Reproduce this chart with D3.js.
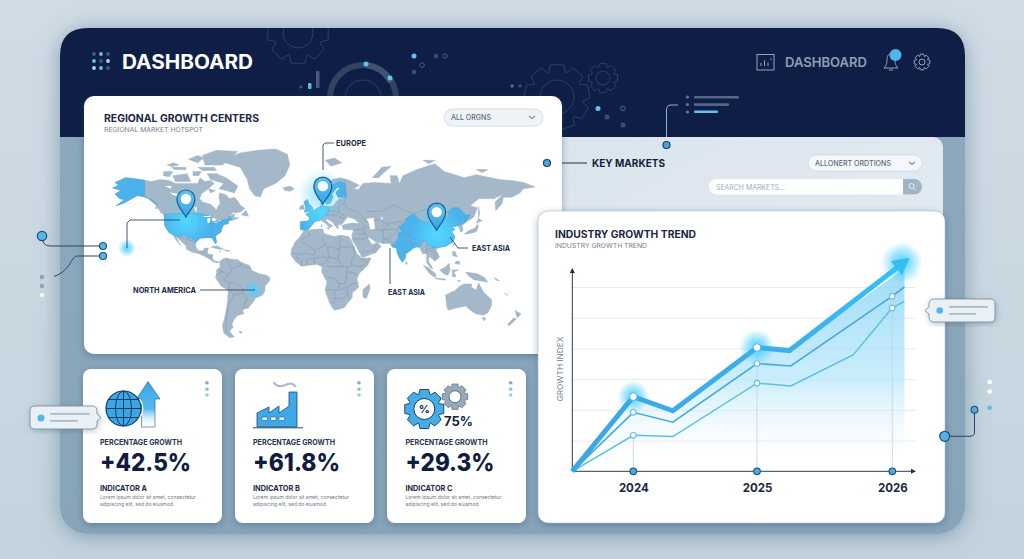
<!DOCTYPE html>
<html><head><meta charset="utf-8">
<script src="https://cdn.jsdelivr.net/npm/d3@7"></script>
<style>html,body{margin:0;padding:0;background:#ccd9e2;overflow:hidden}svg{display:block}text{font-family:Inter,"Open Sans",sans-serif}</style>
</head><body><svg id="c" width="1024" height="559" viewBox="0 0 1024 559"></svg>
<script>
/* ---------- chart data ---------- */
const trendYears=[2024,2025,2026];
const trendMain=[[2023.5,0],[2024,24.3],[2024.32,19.7],[2025,40.3],[2025.24,39.3],[2026.035,66.3]];
const trendArrowTip=[2026.13,69.5];
const trendMid=[[2023.5,0],[2024,19.2],[2024.32,16],[2025,35.1],[2025.25,34.3],[2026,57],[2026.09,60]];
const trendLow=[[2023.5,0],[2024,11.7],[2024.32,11.3],[2025,28.7],[2025.25,27.8],[2025.71,37.9],[2026,53.2],[2026.09,55.3]];
const trendGrid=[10,20,30,40,50,60];
const kpiTitles=["PERCENTAGE GROWTH","PERCENTAGE GROWTH","PERCENTAGE GROWTH"];
const kpiValues=["+42.5%","+61.8%","+29.3%"];
const kpiNames=["INDICATOR A","INDICATOR B","INDICATOR C"];
/* ---------- map data: lon/lat rings ---------- */
const landRings=[
[[-168,65.5],[-163,67],[-166,68.5],[-157,71],[-150,70.5],[-141,69.7],[-135,69],[-128,70],[-120,69.5],[-115,68],[-108,68],[-100,68],[-96,68],[-94,71],[-90,69],[-85,69.5],[-82,68],[-87,65],[-93,62],[-94.5,59],[-92,57],[-85,55.5],[-82,53],[-80,51.5],[-79,54],[-77,56],[-78,60],[-77.5,62.5],[-72,61.5],[-69,59],[-65,60],[-62,57.5],[-60,55],[-56,52.5],[-60,50],[-66,50],[-70,47],[-65,49],[-65,46],[-61,46],[-66,44],[-70,43.5],[-70,41.5],[-74,40.5],[-76,37],[-76,35],[-81,31.5],[-80,26],[-81,25],[-82.8,28],[-84,30],[-89,30],[-94,29.5],[-97.5,27],[-97.8,22],[-95,18.5],[-91,18.5],[-90.5,21],[-87,21],[-88,16],[-83.5,15],[-83.5,11],[-81,9],[-77.5,8.5],[-80,7.5],[-83,8.5],[-86,11],[-91,14],[-95,16],[-101,17.5],[-105.5,20],[-106,23],[-112,29],[-114.5,31.5],[-112,26],[-110,23],[-112,25],[-115,29],[-117,32.5],[-120.5,34.5],[-124,40],[-124.5,48],[-128,51],[-133,56],[-139,60],[-147,61],[-152,59],[-158,56.5],[-165,54.5],[-158,58.5],[-162,59],[-166,62],[-161,64]],
[[-73,78],[-68,80.5],[-60,82],[-45,83],[-30,83.5],[-20,81.5],[-18,77],[-22,72],[-30,68],[-40,65],[-43,60],[-48,61],[-52,65],[-54,70],[-60,76]],
[[-80,73],[-72,71],[-62,66.5],[-65,62.5],[-72,64],[-78,65],[-74,68],[-85,70],[-88,73]],
[[-117,72],[-105,73],[-102,69],[-115,69]],[[-125,74],[-117,74],[-120,71.5],[-125,72]],
[[-90,77],[-75,77],[-62,82.5],[-80,83],[-92,81]],[[-96,76],[-82,76],[-80,74.5],[-92,74.5]],
[[-118,76],[-106,76],[-106,74.8],[-116,75]],[[-87,65],[-81,64],[-85,62.5]],[[-59,48],[-53,47],[-55,51.5]],
[[-100,74],[-93,74],[-95,72],[-100,72]],[[-128,50.5],[-124,49],[-124,48.5],[-128,50]],
[[-104,79.5],[-96,81],[-91,80],[-96,78]],[[-122,77],[-116,78],[-112,77],[-118,76.3]],[[-131,54],[-130,52.5],[-132,52.5]],[[-64,50],[-62,49.7],[-64,49.3]],
[[-24,65.5],[-18,66.5],[-14,65],[-18,63.5],[-22,64]],
[[-85,22],[-80,23],[-74,20],[-78,20]],[[-74,19.5],[-68.5,18.5],[-71,18]],[[-78,18.4],[-76.4,18.2],[-77,17.8]],
[[-77.5,8.5],[-75,11],[-72,12],[-68,11],[-62,10.5],[-60,8.5],[-52,5],[-50,0.5],[-44,-2.5],[-38,-4],[-35,-6],[-35,-9],[-39,-14],[-39,-18],[-41,-22],[-47,-24.5],[-49,-28],[-53,-33],[-58,-34.5],[-57,-38],[-62,-39],[-65,-42],[-67,-46],[-66,-48],[-69,-51],[-65,-55],[-69,-55.5],[-74,-52],[-75,-47],[-73,-40],[-71,-30],[-70,-18],[-76,-14],[-81,-6],[-80,-2],[-80,1],[-77,4]],
[[-61,-51],[-58,-51.5],[-60,-52.5]],
[[-6,35.8],[3,37],[10,37.3],[11,33.5],[15,32.3],[20,31],[25,32],[32,31],[34,28],[37,21],[39,16],[43,12],[51,12],[48,5],[41,-2],[39,-7],[40.5,-15],[35,-20],[35,-24],[32.5,-27],[28,-33],[20,-35],[18,-33],[15,-27],[12,-18],[13.5,-10],[9,-1],[9.5,4],[5,6],[-4,5],[-8,4.5],[-13,8.5],[-17,14.5],[-16.5,20],[-13,27],[-10,30]],
[[49.5,-12],[50,-16],[47,-25],[44,-24],[44,-17]],
[[-9,37],[-9,43],[-2,43.5],[-1,46],[-4.5,48.5],[2,51],[8,54],[8.5,57],[10.5,57],[10,54.5],[14,54],[19,54.5],[21,57],[24,59],[30,60],[23,60],[21,63],[25,65.5],[22,65.8],[17.5,62],[18.5,60],[16,56],[13,55.5],[11,59],[6,58],[5,62],[12,66],[18,70],[25,71],[31,70],[41,67],[36,65],[40,64.5],[44,68],[54,68.5],[68,68],[67,72],[73,72],[75,68],[78,72],[90,75],[105,77.5],[113,74],[130,71],[140,72.5],[160,70],[170,69.5],[180,68.5],[190,66],[180,65],[177,62.5],[170,60],[163,60],[162,56],[156.5,51],[156,57],[163,62],[155,59],[142,59],[135,54.5],[141,53],[138,46.5],[132,43],[128,40],[129,36],[126.5,34.5],[126,37.5],[124.5,40],[121,39],[118,39],[122,37],[119,35],[122,31],[120,26],[114,22.5],[108,21.5],[106,19],[109,13],[105,9],[103,11],[100,13.5],[99.5,9],[103.5,2],[101,3],[98,8],[98,16],[94.5,16],[92,21.5],[89,22],[87,21],[80,15.5],[80,12],[77.5,8],[75,12],[73,17],[72.5,21],[69,22],[67,25],[61,25],[57,26],[54,27],[50,30],[48,30],[51,25],[52,24],[56,26],[59.5,22.5],[55,17],[45,13],[43,13],[39,21],[35,28],[34.5,31.5],[36,36.5],[30,36.5],[27,37],[26.5,40],[29,41],[35,42],[41,41.5],[37,45],[31,46.5],[28,43],[26,40.5],[23,40.5],[23,37],[20,40],[19,42],[14,45],[12.5,44],[16,41],[18.5,40],[16,38],[12,42],[8,44],[3,43],[0,39.5],[-2,37],[-5.5,36]],
[[12,79],[20,80],[26,78],[17,76.5]],[[52,71],[57,71],[68,76.5],[60,76]],[[95,79],[105,79],[100,77.5]],[[140,75],[150,75],[145,73.5]],
[[142,54],[143,49],[142,46],[142,50]],[[130,33],[135,33.5],[140,35],[142,39],[141,41],[139,38],[133,35.5]],[[140,42],[145,43.5],[142,45.5]],
[[120.5,23],[122,25],[121,25]],[[120,18],[122,18],[124,13],[120,14]],[[122,7],[126,6],[126,9],[123,9]],
[[109,1],[113,-3],[116,-4],[118,1],[117,7],[113,3]],[[95,5.5],[100,2.5],[106,-3],[105.5,-6],[101,-3]],[[105,-6.5],[114,-7.5],[114,-8.5],[106,-7.5]],
[[119.5,1],[125,1],[121,-1],[123,-5],[120,-5.5]],[[131,-1],[141,-2.5],[147,-6],[150,-10.5],[143,-9],[138,-8],[133,-4]],
[[114,-22],[122,-18],[126,-14],[130,-12],[136,-12],[136,-15],[140,-17.5],[142,-11],[146,-19],[153,-26],[153,-31],[150,-37],[146,-39],[140,-38],[135,-35],[131,-31.5],[124,-33],[116,-35],[115,-31]],
[[145,-41],[148,-41],[147,-43.5]],[[173,-35],[178,-38],[175,-41],[174,-39]],[[172,-41],[174,-42],[168,-47],[166.5,-46]],[[80,9.5],[82,7],[80.5,6]],
[[124,-9],[127,-8.5],[125,-10]],[[164,-20],[167,-22],[166,-22]],[[155,-6],[160,-9],[157,-8.5]],
[[9,41],[9.5,39],[8.5,39]],[[13,38],[15.5,38],[15,37]],
[[-5.5,50],[1,51],[1.5,53],[-2,56],[-3,58.5],[-6,57],[-4.5,54],[-5,52]],[[-10,52],[-6,52],[-6,55],[-9,54.5]]
];
const highlightRings=[
[[-168,65.5],[-163,67],[-166,68.5],[-157,71],[-150,70.5],[-141,69.7],[-141,60],[-135,58.5],[-130,55],[-134,57],[-139,60],[-147,61],[-152,59],[-158,56.5],[-165,54.5],[-158,58.5],[-162,59],[-166,62],[-161,64]],
[[-124.5,48.5],[-95,49],[-89,48],[-84.5,46.5],[-82.5,43],[-79,43],[-76,44],[-71,45],[-69,47],[-67,45],[-70,43.5],[-70,41.5],[-74,40.5],[-76,37],[-76,35],[-81,31.5],[-80,26],[-81,25],[-82.8,28],[-84,30],[-89,30],[-94,29.5],[-97.5,26],[-101,29.5],[-104,29.5],[-106.5,32],[-111,31.3],[-114.8,32.5],[-117,32.5],[-120.5,34.5],[-124,40]],
[[-9,37],[-9,43],[-2,43.5],[3,42.5],[0,39.5],[-2,37],[-5.5,36]],
[[-2,43.5],[-1,46],[-4.5,48.5],[2,51],[8,54],[14,54],[15,51],[13,48],[10,47],[7.5,44],[3,43]],
[[-5.5,50],[1,51],[1.5,53],[-2,56],[-3,58.5],[-6,57],[-4.5,54],[-5,52]],
[[11,59],[13,55.5],[16,56],[18.5,60],[17.5,62],[22,65.8],[25,65.5],[21,63],[23,60],[30,60],[29,68],[24,69],[15,66],[12,62]],
[[74,39],[80,42],[80,45],[87,49],[91,45],[96,43],[105,42],[111,44],[117,47],[116,50],[120,53],[125,53],[131,48],[135,48],[131,43],[125,40],[121,39],[118,39],[122,37],[119,35],[122,31],[120,26],[114,22.5],[108,21.5],[102,22],[98,24],[98,28],[92,28],[86,28],[81,30],[79,33]],
[[68,23.5],[71,25],[74,30],[74,34],[78,35],[79,31],[81,29],[88,26.5],[92,27.5],[96,28],[93,23],[92,22],[89,22],[87,21],[80,15.5],[80,12],[77.5,8],[75,12],[73,17],[72.5,21],[69,22]]
];
const lakeRings=[
[[-92,47],[-85,47.5],[-85,46.5],[-90,46.5]],[[-88,45.5],[-85,45.5],[-86,42],[-87.5,42]],[[-84,46],[-80,45],[-82,43],[-84,44]],[[-83,42],[-79,43],[-80,42]],[[-80,43.5],[-76,44],[-77,43.3]],
[[47,45],[53,46],[54,40],[54,37],[50,37],[49,42]],[[-120,63],[-112,62],[-110,60.5],[-116,61]],[[-124,66.5],[-118,66.5],[-119,65]],[[59,46.5],[61,46],[60,44]],[[-99,53.5],[-97,53.5],[-97,50.5],[-98,50.5]]
];
const borderLines=[
[[-1.5,35],[-1.5,32],[-8.7,28]],[[-8.7,27],[-4.8,25],[3,19],[12,23.5],[9.5,30]],[[12,23.5],[14,22.5],[24,20],[25,32]],[[25,22],[36.5,22]],[[24,20],[23,11],[15,13],[14,22.5]],[[3,12],[14,13]],[[-16.5,16],[-5,16],[3,15],[3,19]],[[-12,15],[-12,12],[-8,10],[-8,4.5]],[[3,6],[3,12]],[[9,4.5],[14,10],[15,13]],[[14,4],[27,4],[31,4],[35,5],[42,4]],[[36.5,14],[34,9],[35,5]],[[42,4],[48,8],[43,11]],[[12,-5],[22,-8],[22,-11],[28,-12],[30,-8],[30,-1],[31,4]],[[34,-1],[40,-4]],[[30,-1],[34,-1]],[[12,-17],[24,-17.5],[24,-11]],[[20,-17.5],[20,-29],[16,-28]],[[20,-25],[26,-25],[31,-22],[33,-26]],[[25,-17.5],[30,-15],[35,-12],[40,-11]],[[31,-22],[31,-16]],[[-4,5],[-3,11],[3,12]],[[36.5,22],[36.5,14]],[[23,11],[27,4]],
[[28,70],[30,62],[28,56],[32,52],[40,50],[48,42]],[[47,50],[61,51],[70,55],[80,51],[87,49]],[[87,49],[98,52],[107,50],[117,50]],[[52,42],[56,45],[66,41],[74,43],[80,42]],[[44,39],[48,38.5],[54,37],[61,36],[61,30],[61,25]],[[35,29],[44,29],[48,29]],[[44,39],[46,33],[48,30]],[[36,36.5],[44,37]],[[61,30],[66,29],[71,34],[74,37]],[[61,36],[66,37],[74,37]],[[98,24],[98,16]],[[98,20],[100,20],[105,22]],[[100,20],[105,15],[105,11]],[[102,22],[107,15]],[[43,17],[52,19],[55,17]],[[52,19],[55,23]],[[14,54],[15,51],[24,50],[23,54]],[[24,50],[30,46]],[[13,48],[22,48],[28,45]],[[3,50],[8,49]],[[23,59],[28,56],[23,54]],[[66,41],[61,36]],[[39,33],[46,33]],[[70,25],[62,29]],
[[-72,12],[-67,2],[-70,-4],[-74,-8],[-70,-11],[-65,-10],[-58,-16],[-58,-20],[-54,-25],[-57,-30],[-53,-33]],[[-60,8.5],[-60,5],[-67,2]],[[-78,1],[-70,-4]],[[-80,-4],[-75,-1]],[[-70,-18],[-65,-22],[-58,-20]],[[-70,-18],[-69,-11]],[[-65,-22],[-70,-30],[-72,-45],[-72,-52]],[[-54,-25],[-58,-34]],[[-60,5],[-52,2.5]],[[-92,14.5],[-91,18]],[[-88,16],[-90,14]],[[-84,15],[-86,11]],
[[-124.5,48.5],[-95,49]],[[-117,32.5],[-97.5,26]]
];
const highlightBorders=[[[-95,49],[-95,30]],[[-110,49],[-110,31.5]],[[-82,43],[-85,30]],[[3,50],[8,49]],[[88,27],[91,36],[100,36],[111,44]],[[15,51],[8,49]]];
const pins=[{lon:-106,lat:46.5},{lon:10,lat:55.5},{lon:106.5,lat:36.3}];
/* glows inside highlighted countries */
const innerGlows=[{lon:-106,lat:44,r:25},{lon:9,lat:50,r:24},{lon:107,lat:33,r:27}];
/* soft halos on the open map */
const halos=[{lon:-106,lat:54,r:24,o:.28},{lon:10,lat:62,r:25,o:.6},{lon:106.5,lat:42,r:24,o:.5},{lon:-156,lat:21,r:9,o:.95},{lon:-49,lat:-17.4,r:10,o:.95}];
const mapLabels=[{t:"EUROPE",x:336,y:146,w:30},{t:"NORTH AMERICA",x:133,y:293,w:63},{t:"EAST ASIA",x:472,y:251,w:38},{t:"EAST ASIA",x:388,y:295,w:37}];
const leaders=[[[323,170],[323,145],[325,143],[334,143]],[[200,290],[255,290]],[[450,237],[458,248],[468,248]],[[390,248],[390,284]],[[180,220],[130,220],[127,223],[127,248]]];

/* ---------- helpers ---------- */
const svg=d3.select("#c");
const defs=svg.append("defs");
function grad(id,dir,stops){const g=defs.append("linearGradient").attr("id",id);
 const [a,b,c,d]=dir;g.attr("x1",a).attr("y1",b).attr("x2",c).attr("y2",d);
 stops.forEach(s=>g.append("stop").attr("offset",s[0]).attr("stop-color",s[1]).attr("stop-opacity",s[2]??1));}
function radial(id,c){const g=defs.append("radialGradient").attr("id",id);
 g.append("stop").attr("offset",0).attr("stop-color",c).attr("stop-opacity",1);
 g.append("stop").attr("offset",.45).attr("stop-color",c).attr("stop-opacity",.6);
 g.append("stop").attr("offset",1).attr("stop-color",c).attr("stop-opacity",0);}
function shadow(id,dx,dy,sd,col,op){const f=defs.append("filter").attr("id",id).attr("x","-20%").attr("y","-20%").attr("width","140%").attr("height","140%");
 f.append("feDropShadow").attr("dx",dx).attr("dy",dy).attr("stdDeviation",sd).attr("flood-color",col).attr("flood-opacity",op);}
grad("bg",[0,0,0,1],[[0,"#d0dce5"],[1,"#c3d3dd"]]);
grad("panel",[0,0,0,1],[[0,"#8ea9bd"],[1,"#88a4b9"]]);
grad("keyPanel",[0,0,1,1],[[0,"#dae4ed"],[1,"#e6edf3"]]);
grad("area",[0,0,0,1],[[0,"#86d4f7",.8],[.55,"#b5e6fa",.7],[1,"#ffffff",0]]);
grad("main",[0,0,1,0],[[0,"#3aa7e6"],[.7,"#3fb0ec"],[1,"#30c2f7"]]);
grad("arrowUp",[0,0,0,1],[[0,"#3aa7e6"],[.6,"#55b8ee"],[1,"#ffffff",.1]]);
grad("pin",[0,0,0,1],[[0,"#5fc0f0"],[1,"#3aa6e4"]]);
radial("glow","#4fd0ff");
radial("glowIn","#52d8ff");
shadow("sCard",0,2,3.5,"#28496a",.4);
shadow("sPanel",0,2,11,"#57778f",.6);
shadow("sBub",1,2,3,"#47657f",.35);
function T(p,x,y,s,size,weight,col,w,anchor){const t=p.append("text").attr("x",x).attr("y",y).text(s).attr("font-size",size).attr("font-weight",weight).attr("fill",col);
 if(w)t.attr("textLength",w).attr("lengthAdjust","spacingAndGlyphs"); if(anchor)t.attr("text-anchor",anchor);return t;}
function gear(cx,cy,R,r,n){const a=[];const st=2*Math.PI/n;
 for(let i=0;i<n;i++){const t=i*st-Math.PI/2;
  [[-.5,r],[-.3,R],[.3,R],[.5,r]].forEach(([k,rad])=>a.push([cx+rad*Math.cos(t+k*st*.95),cy+rad*Math.sin(t+k*st*.95)]));}
 return "M"+a.map(p=>p.map(v=>v.toFixed(1)).join(",")).join("L")+"Z";}
function dotC(p,x,y,r,f,s,sw){return p.append("circle").attr("cx",x).attr("cy",y).attr("r",r).attr("fill",f).attr("stroke",s||"none").attr("stroke-width",sw||0);}
function rr(p,x,y,w,h,r,f){return p.append("rect").attr("x",x).attr("y",y).attr("width",w).attr("height",h).attr("rx",r).attr("fill",f);}
const lineGen=d3.line().curve(d3.curveLinear);

/* ---------- background & frame ---------- */
svg.append("rect").attr("width",1024).attr("height",559).attr("fill","url(#bg)");
const PX=60,PY=28,PW=905,PH=506,PR=28;
rr(svg,PX,PY,PW,PH,PR,"url(#panel)").attr("filter","url(#sPanel)");
svg.append("path").attr("d",`M${PX},137V${PY+PR}Q${PX},${PY} ${PX+PR},${PY}H${PX+PW-PR}Q${PX+PW},${PY} ${PX+PW},${PY+PR}V137Z`).attr("fill","#0f1e46");
/* header decor */
const deco=svg.append("g").attr("fill","none").attr("stroke","#2f3f63").attr("stroke-width",1);
const clipTop=defs.append("clipPath").attr("id","hdr");clipTop.append("rect").attr("x",60).attr("y",28).attr("width",905).attr("height",109);
deco.attr("clip-path","url(#hdr)");
deco.append("path").attr("d",gear(298,33,31,24,8));deco.append("circle").attr("cx",298).attr("cy",33).attr("r",15);
deco.append("path").attr("d",gear(557,97,33,26,9));deco.append("circle").attr("cx",557).attr("cy",97).attr("r",17);
deco.append("path").attr("d",gear(603,78,15,11.5,8));deco.append("circle").attr("cx",603).attr("cy",78).attr("r",7);
deco.append("circle").attr("cx",363).attr("cy",98).attr("r",33).attr("stroke-width",6).attr("stroke","#33425f");
deco.append("circle").attr("cx",363).attr("cy",98).attr("r",18);
deco.append("path").attr("d","M366,65A33,33 0 0 1 391,82").attr("stroke","#405272").attr("stroke-width",6);
dotC(svg,366,64,2.5,"#63c3ee");dotC(svg,390,78,2.5,"#63c3ee");
rr(svg,316,71,3.5,17,1,"#4a5b78");rr(svg,308,83,3.5,6,1,"#5db7e2");dotC(svg,301,87,1.5,"#4a5b78");
dotC(svg,414,56,2.5,"#63c3ee");dotC(svg,422,65,2.3,"none","#4a5b78",1);dotC(svg,414,72,2.3,"#3d4d6d");dotC(svg,436,56,2.2,"#3d4d6d");dotC(svg,445,56,2.2,"none","#4a5b78",1);
dotC(svg,512,86,1.8,"#55668a");dotC(svg,520,86,1.8,"#3d4d6d");
dotC(svg,598,108.5,2.5,"#63c3ee");dotC(svg,607,117,2.5,"#3d4d6d");dotC(svg,623,108.5,2.3,"none","#55668a",1);dotC(svg,623,125,2.5,"#3d4d6d");
[97,104.5,112].forEach(y=>dotC(svg,687.5,y,1.6,"#67768f"));
rr(svg,694,96,45,2.6,1,"#566683");rr(svg,694,103.3,35,2.6,1,"#566683");rr(svg,694,110.5,24,2.6,1,"#63c3ee");
svg.append("path").attr("d","M666.5,145V110Q666.5,105 671,105H678").attr("fill","none").attr("stroke","#7fb7d6").attr("stroke-width",1);
/* logo & title */
[[94,54,"#46587a"],[101,54,"#63c3ee"],[108,54,"#46587a"],[94,61,"#63c3ee"],[101,61,"#46587a"],[108,61,"#9fdcf5"],[94,68,"#9fdcf5"],[101,68,"#63c3ee"],[108,68,"#46587a"]].forEach(d=>dotC(svg,d[0],d[1],1.9,d[2]));
T(svg,122,69,"DASHBOARD",19.5,700,"#fff",131);
const hi=svg.append("g").attr("fill","none").attr("stroke","#95a4ba").attr("stroke-width",1);
hi.append("rect").attr("x",757).attr("y",54.5).attr("width",17).attr("height",15.5);
hi.append("path").attr("d","M761,66V63M764.5,66V60.5M768,66V62.5M771,60V58.5");
T(svg,785,67,"DASHBOARD",13,600,"#8f9eb5",82);
hi.append("path").attr("d","M884,68H898C895,65 895,62 895,60C895,56 893,54 891,54C888,54 887,56 887,60C887,62 887,65 884,68M889,70H893");
dotC(svg,895.5,55,6,"#4db8ea");
hi.append("path").attr("d",gear(922,62,8,6,8));hi.append("circle").attr("cx",922).attr("cy",62).attr("r",3);

/* key markets panel */
rr(svg,530,137,413,216,10,"url(#keyPanel)");
dotC(svg,666.5,145,3.5,"#4aa7d6","#173f63",1.2);
svg.append("path").attr("d","M547,163H587").attr("stroke","#1d3350").attr("stroke-width",1);
T(svg,592,167,"KEY MARKETS",11,700,"#141f3d",73);
rr(svg,808,155,114,16,8,"#f5f8fa").attr("stroke","#cdd8e2").attr("stroke-width",.8);
T(svg,815,166,"ALLONERT ORDTIONS",7,500,"#5c6a80",76);
svg.append("path").attr("d","M909,162l3,2.4l3,-2.4").attr("fill","none").attr("stroke","#7f8ea2").attr("stroke-width",1.2);
rr(svg,709,179,213,15.5,7.7,"#fdfefe");
svg.append("path").attr("d","M903,179H914.3A7.7,7.7 0 0 1 914.3,194.5H903Z").attr("fill","#9fb4c6");
T(svg,716,190,"SEARCH MARKETS...",7,400,"#a1aebb",69);
svg.append("circle").attr("cx",911.5).attr("cy",186).attr("r",2.5).attr("fill","none").attr("stroke","#e8eef3").attr("stroke-width",1);
svg.append("path").attr("d","M913.5,188l2.3,2.3").attr("stroke","#e8eef3").attr("stroke-width",1);

/* ---------- map card ---------- */
rr(svg,84,96,478,258,10,"#fff").attr("filter","url(#sCard)");
dotC(svg,547,163,3.5,"#4aa7d6","#173f63",1.2);
T(svg,104,122,"REGIONAL GROWTH CENTERS",10.5,700,"#1c2743",155);
T(svg,104,132,"REGIONAL MARKET HOTSPOT",6.8,400,"#72808f",99);
rr(svg,444,109,99,17,8.5,"#eef3f7").attr("stroke","#cbd7e1").attr("stroke-width",.8);
T(svg,451,120,"ALL ORGNS",7,500,"#5c6a80",40);
svg.append("path").attr("d","M529,116l3,2.4l3,-2.4").attr("fill","none").attr("stroke","#7f8ea2").attr("stroke-width",1.2);

const lonX=d3.scaleLinear().domain([0,1]).range([311,312.18]);
const latM=d3.scaleLinear().domain([0,1]).range([271,271-61.7]);
const miller=d=>1.25*Math.log(Math.tan(Math.PI/4+0.4*d*Math.PI/180));
const geo=d3.geoTransform({point(x,y){this.stream.point(lonX(x),latM(miller(y)));}});
const gp=d3.geoPath(geo);
const XY=(lon,lat)=>[lonX(lon),latM(miller(lat))];
const poly=r=>({type:"Polygon",coordinates:[[...r,r[0]]]});
const hlClip=defs.append("clipPath").attr("id","hlClip");
hlClip.selectAll("path").data(highlightRings).join("path").attr("d",d=>gp(poly(d)));
const mapG=svg.append("g");
mapG.selectAll(".land").data(landRings).join("path").attr("d",d=>gp(poly(d))).attr("fill","#a4b8c9").attr("stroke","#97adc0").attr("stroke-width",.4);
mapG.selectAll(".b").data(borderLines).join("path").attr("d",d=>gp({type:"LineString",coordinates:d})).attr("fill","none").attr("stroke","#809ab0").attr("stroke-width",.6);
mapG.append("g").selectAll("circle").data(halos).join("circle").attr("cx",d=>XY(d.lon,d.lat)[0]).attr("cy",d=>XY(d.lon,d.lat)[1]).attr("r",d=>d.r).attr("fill","url(#glow)").attr("opacity",d=>d.o);
mapG.selectAll(".hl").data(highlightRings).join("path").attr("d",d=>gp(poly(d))).attr("fill","#4bb2ec").attr("stroke","#3f9fd8").attr("stroke-width",.4);
mapG.selectAll(".hb").data(highlightBorders).join("path").attr("d",d=>gp({type:"LineString",coordinates:d})).attr("fill","none").attr("stroke","#3d9cd6").attr("stroke-width",.4);
mapG.append("g").attr("clip-path","url(#hlClip)").selectAll("circle").data(innerGlows).join("circle").attr("cx",d=>XY(d.lon,d.lat)[0]).attr("cy",d=>XY(d.lon,d.lat)[1]).attr("r",d=>d.r).attr("fill","url(#glowIn)");
mapG.selectAll(".lk").data(lakeRings).join("path").attr("d",d=>gp(poly(d))).attr("fill","#fff");
mapG.selectAll(".ld").data(leaders).join("path").attr("d",lineGen).attr("fill","none").attr("stroke","#33465f").attr("stroke-width",.9);
pins.forEach(p=>{const [x,y]=XY(p.lon,p.lat);const g=svg.append("g").attr("transform",`translate(${x},${y})`);
 g.append("path").attr("d","M0,0C-3,-6 -9,-10 -9,-18A9,9 0 0 1 9,-18C9,-10 3,-6 0,0Z").attr("fill","url(#pin)").attr("stroke","#1c5d8d").attr("stroke-width",1.2);
 g.append("circle").attr("cy",-18).attr("r",5.2).attr("fill","#fff");});
mapLabels.forEach(l=>T(svg,l.x,l.y,l.t,7.5,700,"#222d46",l.w));

/* left connectors */
const lc=svg.append("g").attr("fill","none").attr("stroke","#2b4566").attr("stroke-width",1);
lc.append("path").attr("d","M42,236Q42,246 50,246H103");
lc.append("path").attr("d","M103,256H78C70,256 72,270 54,276.5");
dotC(svg,42,236,4.7,"#56b4e6","#1d4f78",1.2);dotC(svg,103,246,3.5,"#56b4e6","#1d4f78",1.1);dotC(svg,103,256,3.5,"#56b4e6","#1d4f78",1.1);
dotC(svg,42,277,2.2,"#8aa3b6");dotC(svg,42,286,2.2,"#8aa3b6");dotC(svg,42,295,2.2,"#f2f6f8");

/* ---------- KPI cards ---------- */
const cardX=[83,235,387],cardW=139,contentX=[100,253,405.5],valW=[91,87,89],kebabX=[207,359,510.7];
cardX.forEach((x,i)=>{rr(svg,x,369,cardW,154,8,"#fff").attr("filter","url(#sCard)");
 T(svg,contentX[i],444.5,kpiTitles[i],7.6,700,"#2a3550",82);
 T(svg,contentX[i],471,kpiValues[i],24,800,"#101c3f",valW[i]);
 T(svg,contentX[i],491,kpiNames[i],7.6,700,"#1e2845",47);
 T(svg,contentX[i],499,"Lorem ipsum dolor sit amet, consectetur",5.2,400,"#6e7a88",96);
 T(svg,contentX[i],505.5,"adipiscing elit, sed do eiusmod",5.2,400,"#6e7a88",73);
 [[382.7,"#8fa5b8"],[389.3,"#7fc8d8"],[395,"#b5c5d2"]].forEach(d=>dotC(svg,kebabX[i],d[0],1.8,d[1]));
});
/* icon: globe + arrow */
svg.append("path").attr("d","M148,381.5L160,399H155V427H141.5V399H136.5Z").attr("fill","url(#arrowUp)").attr("stroke","#1f4f7a").attr("stroke-width",.8).attr("stroke-opacity",.7);
const gl=svg.append("g").attr("fill","none").attr("stroke","#123e6c").attr("stroke-width",1);
dotC(gl,123.5,408.5,17.5,"#3fa5e2","#123e6c",1.2);
gl.append("ellipse").attr("cx",123.5).attr("cy",408.5).attr("rx",8).attr("ry",17.5);
gl.append("path").attr("d","M123.5,391V426M106,408.5H141M108.5,399.5H138.5M108.5,417.5H138.5");
svg.append("path").attr("d","M140,399A17.5,17.5 0 0 1 140,418").attr("fill","none").attr("stroke","#fff").attr("stroke-width",1.2);
/* icon: factory */
const fa=svg.append("g");
fa.append("path").attr("d","M257,427V413L269,407V413L279,406V413L289,406V392H297V427Z").attr("fill","#3fa9e8").attr("stroke","#1c4a74").attr("stroke-width",.8);
fa.append("path").attr("d","M253,427.8H303").attr("stroke","#33465f").attr("stroke-width",1);
[262,270.5,279].forEach(x=>rr(fa,x,417,5.5,3.5,.5,"#dff2fb").attr("stroke","#1c4a74").attr("stroke-width",.5));
fa.append("path").attr("d","M273.5,382C277,388 284,386 288,384C291,383 294,384 295.5,387").attr("fill","none").attr("stroke","#a8b9c8").attr("stroke-width",2);
/* icon: gears */
svg.append("path").attr("d",gear(424.3,409,20,15.5,8)).attr("fill","#46ace6").attr("stroke","#123e6c").attr("stroke-width",.9);
dotC(svg,424.3,409,10.5,"#fff","#123e6c",1);
T(svg,424.3,413,"%",11,700,"#14284a",null,"middle");
svg.append("path").attr("d",gear(455,396.7,13,10,8)).attr("fill","#97a9b9").attr("stroke","#5a6d80").attr("stroke-width",.7);
dotC(svg,455,396.7,6,"#fff","#5a6d80",1);
T(svg,444,425.7,"75%",12.5,700,"#14203e",29);
/* left bubble */
const bub=svg.append("g").attr("filter","url(#sBub)");
bub.append("path").attr("d","M35,406H92Q97,406 97,411V414L101,417.5L97,421V424Q97,429 92,429H35Q30,429 30,424V411Q30,406 35,406Z").attr("fill","#eaf1f6").attr("stroke","#6f879c").attr("stroke-width",.8);
dotC(svg,41,418,3.5,"#52b6ea");
rr(svg,50,413,40,1.8,1,"#a9bbc9");rr(svg,50,420,28,1.8,1,"#a9bbc9");

/* ---------- trend chart ---------- */
rr(svg,538,211,407,312,10,"#fff").attr("filter","url(#sCard)").attr("stroke","#9fb1c1").attr("stroke-width",.5);
T(svg,555,238,"INDUSTRY GROWTH TREND",10,700,"#1c2743",141);
T(svg,555,248,"INDUSTRY GROWTH TREND",6.8,400,"#72808f",92);
const x=d3.scaleLinear().domain([2023.5,2024,2025,2026]).range([572.3,633.3,757,892.3]);
const y=d3.scaleLinear().domain([0,60]).range([471.3,287]);
const plot=svg.append("g");
const toXY=d=>[x(d[0]),y(d[1])];
/* grid through the y axis */
const gridG=plot.append("g").attr("transform","translate(572.3,0)").call(d3.axisLeft(y).tickValues(trendGrid).tickSize(-343).tickFormat(""));
gridG.select(".domain").remove();gridG.selectAll("line").attr("stroke","#e3e9ef").attr("stroke-width",1);
/* area */
const areaEdge=x(2026.09);
const areaPts=[...trendMain.slice(0,5).map(toXY),[areaEdge,y(66)]];
plot.append("path").attr("d",d3.area().x(d=>d[0]).y1(d=>d[1]).y0(y(0))(areaPts)).attr("fill","url(#area)");
/* verticals */
const topVal={2024:trendLow[1][1],2025:trendLow[3][1],2026:trendMid[5][1]};
trendYears.forEach(yr=>plot.append("line").attr("x1",x(yr)).attr("x2",x(yr)).attr("y1",y(0)).attr("y2",y(topVal[yr])).attr("stroke","#c4d2dc").attr("stroke-width",.8));
plot.append("line").attr("x1",x(2025)).attr("x2",x(2025)).attr("y1",y(trendLow[3][1])).attr("y2",y(trendMain[3][1])).attr("stroke","#b8d4e4").attr("stroke-width",.6);
/* glows */
[[2024,trendMain[1][1],16],[2025,trendMain[3][1],18]].forEach(d=>dotC(plot,x(d[0]),y(d[1]),d[2],"url(#glow)"));
dotC(plot,x(trendArrowTip[0])-8,y(trendArrowTip[1])+5,21,"url(#glow)");
/* axes */
plot.append("path").attr("d",`M${x(2023.5)},${y(0)}V272`).attr("stroke","#2c3a52").attr("stroke-width",1).attr("fill","none");
plot.append("path").attr("d",`M572.3,268l-2.5,5h5Z`).attr("fill","#1c2a45");
plot.append("path").attr("d",`M${x(2023.5)},${y(0)}H912`).attr("stroke","#2c3a52").attr("stroke-width",1).attr("fill","none");
plot.append("path").attr("d",`M916,${y(0)}l-5,-2.5v5Z`).attr("fill","#1c2a45");
/* lines */
const ln=d3.line().x(d=>x(d[0])).y(d=>y(d[1])).curve(d3.curveLinear);
plot.append("path").attr("d",ln(trendLow)).attr("fill","none").attr("stroke","#58c0e6").attr("stroke-width",1.5);
plot.append("path").attr("d",ln(trendMid)).attr("fill","none").attr("stroke","#46a8dc").attr("stroke-width",1.6);
plot.append("path").attr("d",ln(trendMain)).attr("fill","none").attr("stroke","url(#main)").attr("stroke-width",5).attr("stroke-linejoin","miter");
const tp=toXY(trendArrowTip),from=toXY(trendMain[5]),ang=Math.atan2(tp[1]-from[1],tp[0]-from[0])*180/Math.PI;
plot.append("path").attr("d","M0,0L-17,-9L-17,9Z").attr("transform",`translate(${tp[0]},${tp[1]}) rotate(${ang})`).attr("fill","#33bdf3");
/* markers */
[trendMid,trendLow].forEach(s=>trendYears.forEach(yr=>{const p=s.find(d=>d[0]===yr);dotC(plot,x(yr),y(p[1]),2.8,"#fff","#63bfe6",1.1);}));
[2024,2025].forEach(yr=>{const p=trendMain.find(d=>d[0]===yr);dotC(plot,x(yr),y(p[1]),3.8,"#fff","#48b4ea",1);});
/* x axis ticks */
const xa=plot.append("g").attr("transform",`translate(0,${y(0)})`).call(d3.axisBottom(x).tickValues(trendYears).tickFormat(d3.format("d")).tickSize(0).tickPadding(13));
xa.select(".domain").remove();
xa.selectAll("text").attr("font-size",11.5).attr("font-weight",700).attr("fill","#1b2640").attr("font-family","Inter");
trendYears.forEach(yr=>dotC(plot,x(yr),y(0),3.3,"#4fa9da","#1d4f78",1.1));
T(svg,0,0,"GROWTH INDEX",7.5,400,"#6e7d8e",65,"middle").attr("transform","translate(562.5,369) rotate(-90)");
/* right bubble */
const bub2=svg.append("g").attr("filter","url(#sBub)");
bub2.append("path").attr("d","M934,299H990Q995,299 995,304V317Q995,322 990,322H934Q929,322 929,317V314L925,310.5L929,307V304Q929,299 934,299Z").attr("fill","#eaf1f6").attr("stroke","#6f879c").attr("stroke-width",.8);
dotC(svg,939.7,310.5,3.3,"#52b6ea");
rr(svg,949,306,39,1.8,1,"#a9bbc9");rr(svg,949,313,27,1.8,1,"#a9bbc9");
/* right connector */
svg.append("path").attr("d","M945,436.3H970Q974.5,436.3 974.5,432V410").attr("fill","none").attr("stroke","#2b4566").attr("stroke-width",1);
dotC(svg,944.7,436.3,5,"#4fb3ea","#1d4f78",1.2);dotC(svg,974.5,409.7,3.4,"#56a9d8","#1d4f78",1.1);
dotC(svg,989.7,382,2.3,"#fff");dotC(svg,989.7,391.5,2.3,"#fff");dotC(svg,989.7,407.7,2.3,"#5cb8e6");
</script></body></html>
